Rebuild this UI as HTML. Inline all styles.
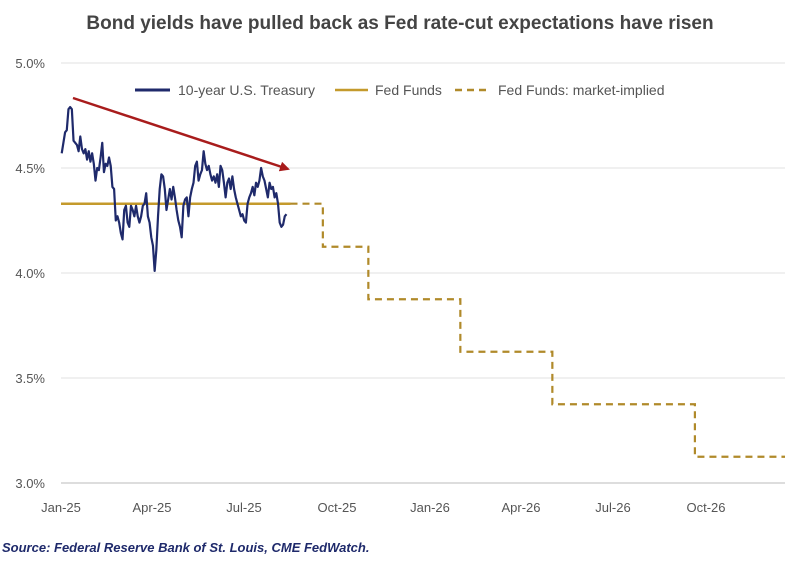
<!DOCTYPE html>
<html><head><meta charset="utf-8"><style>
body{margin:0;background:#fff;}
svg text{font-family:"Liberation Sans",sans-serif;}
</style></head><body>
<svg width="800" height="559" viewBox="0 0 800 559">
<text x="400" y="29" text-anchor="middle" font-size="19" font-weight="bold" fill="#444">Bond yields have pulled back as Fed rate-cut expectations have risen</text>
<g id="grid"></g>
<g id="yax"></g>
<g id="xax"></g>
<g id="series"></g>
<g>
<line x1="135" y1="90" x2="170" y2="90" stroke="#1f2a6b" stroke-width="3"/>
<text x="178" y="95" font-size="14" fill="#555">10-year U.S. Treasury</text>
<line x1="335" y1="90" x2="368" y2="90" stroke="#c49a2c" stroke-width="2.5"/>
<text x="375" y="95" font-size="14" fill="#555">Fed Funds</text>
<line x1="455" y1="90" x2="490" y2="90" stroke="#b08a2a" stroke-width="2.5" stroke-dasharray="7,5"/>
<text x="498" y="95" font-size="14" fill="#555">Fed Funds: market-implied</text>
</g>
<defs><marker id="ah" markerWidth="10" markerHeight="10" refX="8" refY="5" orient="auto" markerUnits="userSpaceOnUse"><path d="M0,0 L10,5 L0,10 z" fill="#a81c1c"/></marker></defs>
<line x1="73" y1="98" x2="288" y2="169" stroke="#a81c1c" stroke-width="2.5" marker-end="url(#ah)"/>
<text x="2" y="552" font-size="13" font-weight="bold" font-style="italic" fill="#1f2a6b">Source: Federal Reserve Bank of St. Louis, CME FedWatch.</text>
</svg>
<script>
const yTicks=[3.0,3.5,4.0,4.5,5.0];
const yTickLabels=["3.0%","3.5%","4.0%","4.5%","5.0%"];
const xTickDays=[0,90,181,273,365,455,546,638];
const xTickLabels=["Jan-25","Apr-25","Jul-25","Oct-25","Jan-26","Apr-26","Jul-26","Oct-26"];
const tsyStartDay=0.7, tsyEndDay=223;
const tsyValues=[4.57,4.62,4.67,4.68,4.78,4.79,4.78,4.63,4.62,4.61,4.58,4.65,4.59,4.57,4.59,4.54,4.58,4.53,4.57,4.52,4.44,4.50,4.49,4.55,4.62,4.48,4.52,4.51,4.55,4.51,4.41,4.40,4.25,4.27,4.24,4.19,4.16,4.30,4.32,4.24,4.22,4.32,4.30,4.27,4.32,4.27,4.24,4.27,4.32,4.33,4.38,4.27,4.24,4.17,4.13,4.01,4.11,4.27,4.40,4.47,4.46,4.40,4.30,4.35,4.40,4.35,4.41,4.36,4.30,4.25,4.22,4.17,4.32,4.35,4.36,4.27,4.36,4.40,4.43,4.51,4.53,4.44,4.47,4.49,4.58,4.52,4.49,4.51,4.47,4.44,4.46,4.43,4.47,4.41,4.51,4.49,4.43,4.36,4.43,4.45,4.40,4.46,4.40,4.36,4.33,4.30,4.27,4.28,4.25,4.24,4.33,4.36,4.38,4.41,4.37,4.43,4.41,4.44,4.50,4.46,4.44,4.40,4.36,4.43,4.40,4.41,4.36,4.38,4.33,4.24,4.22,4.23,4.27,4.28];
const fedDays=[0,227];
const fedValues=[4.33,4.33];
const impliedDays=[227,259,304,395,486,627,716];
const impliedValues=[4.33,4.125,3.875,3.625,3.375,3.125,3.125];

const NS="http://www.w3.org/2000/svg";
const X0=61,PXD=1.011,Y5=63,PXV=210,XR=785;
const xs=d=>X0+d*PXD, ys=v=>Y5+(5-v)*PXV;
function mk(t,a,p){const e=document.createElementNS(NS,t);for(const k in a)e.setAttribute(k,a[k]);p.appendChild(e);return e;}
const grid=document.getElementById('grid'),yax=document.getElementById('yax'),xax=document.getElementById('xax'),ser=document.getElementById('series');
yTicks.forEach((v,i)=>{
 const l=mk('line',{x1:X0,x2:XR,y1:ys(v),y2:ys(v),stroke:i==0?'#bbb':'#e2e2e2','stroke-width':1},grid);
 
 
 const t=mk('text',{x:45,y:ys(v)+5,'text-anchor':'end','font-size':13,fill:'#555'},yax);t.textContent=yTickLabels[i];
 
 
});
xTickDays.forEach((d,i)=>{
 const t=mk('text',{x:xs(d),y:512,'text-anchor':'middle','font-size':13,fill:'#555'},xax);t.textContent=xTickLabels[i];
 
 
});
function step(days,vals){let p='M'+xs(days[0])+','+ys(vals[0]);for(let i=1;i<days.length;i++){p+=' H'+xs(days[i])+' V'+ys(vals[i]);}return p;}
let ip=step(impliedDays,impliedValues).replace(/ V[^ ]*$/,'');
ip+=' H'+XR;
const imp=mk('path',{d:step(impliedDays,impliedValues)+' H'+XR,fill:'none',stroke:'#b08a2a','stroke-width':2.2,'stroke-dasharray':'7,5'},ser);


const fed=mk('path',{d:step(fedDays,fedValues),fill:'none',stroke:'#c49a2c','stroke-width':2.5},ser);


const n=tsyValues.length;
const pts=tsyValues.map((v,i)=>xs(tsyStartDay+(tsyEndDay-tsyStartDay)*i/(n-1))+','+ys(v)).join(' ');
const tl=mk('polyline',{points:pts,fill:'none',stroke:'#1f2a6b','stroke-width':2.2,'stroke-linejoin':'round'},ser);


</script>
</body></html>
